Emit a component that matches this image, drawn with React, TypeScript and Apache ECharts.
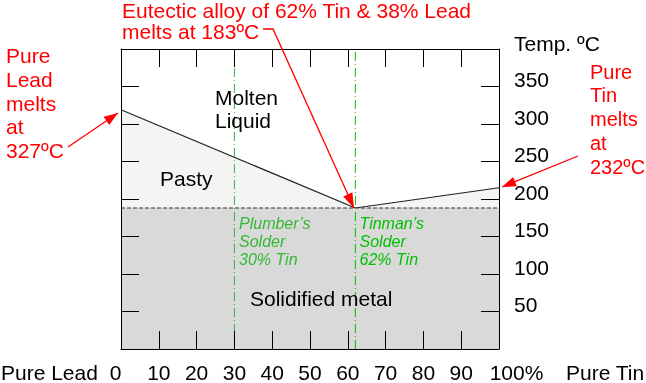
import React, { useEffect, useRef } from "react";
import * as echarts from "echarts";

// ---- data ----
const liquidusX = [0, 62, 100];          // % Tin
const liquidusT = [319, 188, 215];        // drawn temperatures (°C)
const solidusX = [0, 100];
const solidusT = [188, 188];
const plumberX = 30;
const plumberTop = 376;
const tinmanX = 62;
const tempTicks = [50, 100, 150, 200, 250, 300, 350];
const compTicks = [0, 10, 20, 30, 40, 50, 60, 70, 80, 90, 100];

const FONT = "'Liberation Sans', Arial, sans-serif";
const RED = "#ff0000";
const GREEN1 = "#33b833";
const GREEN2 = "#00c000";

function textLines(lines: string[], x: number, y0: number, dy: number, fill: string, font: string) {
  return lines.map((t, i) => ({
    type: "text",
    x,
    y: y0 + i * dy,
    z: 20,
    style: { text: t, fill, font, align: "left", verticalAlign: "middle" },
  }));
}

function arrowHead(tail: number[], head: number[], len: number, half: number) {
  const dx = head[0] - tail[0];
  const dy = head[1] - tail[1];
  const l = Math.sqrt(dx * dx + dy * dy);
  const ux = dx / l, uy = dy / l;
  const bx = head[0] - ux * len, by = head[1] - uy * len;
  return {
    type: "polygon",
    z: 20,
    shape: { points: [[head[0], head[1]], [bx - uy * half, by + ux * half], [bx + uy * half, by - ux * half]] },
    style: { fill: RED },
  };
}

export default function App() {
  const ref = useRef<HTMLDivElement>(null);
  useEffect(() => {
    if (!ref.current) return;
    const chart = echarts.init(ref.current, null, { renderer: "svg" });
    const axisLine = { show: true, onZero: false, lineStyle: { color: "#000", width: 1 } };
    const tick = { show: true, inside: true, length: 18, lineStyle: { color: "#000", width: 1 } };
    const lab = { fontSize: 21, color: "#000", fontFamily: FONT };

    const arrow1Pts = [[263, 29], [273, 29], [354, 208]];
    const arrow2 = [[68, 147], [118, 113]];
    const arrow3 = [[578, 156], [502, 187]];

    chart.setOption({
      animation: false,
      grid: { left: 121, right: 147, top: 49, bottom: 32 },
      xAxis: [
        {
          type: "value", min: 0, max: 100, interval: 10, position: "bottom", z: 10,
          axisLine, axisTick: tick, splitLine: { show: false },
          axisLabel: {
            ...lab, margin: 13,
            formatter: (v: number) => {
              if (!compTicks.includes(v)) return "";
              if (v === 0) return "{a|0}";
              if (v === 100) return "{b|100%}";
              return String(v);
            },
            rich: {
              a: { fontSize: 21, color: "#000", fontFamily: FONT, padding: [0, 11, 0, 0] },
              b: { fontSize: 21, color: "#000", fontFamily: FONT, padding: [0, 0, 0, 35] },
            },
          },
        },
        {
          type: "value", min: 0, max: 100, interval: 10, position: "top", z: 10,
          axisLine, axisTick: tick, splitLine: { show: false }, axisLabel: { show: false },
        },
      ],
      yAxis: [
        {
          type: "value", min: 0, max: 400, interval: 50, position: "right", z: 10,
          axisLine, axisTick: tick, splitLine: { show: false },
          axisLabel: {
            ...lab, margin: 15, verticalAlign: "bottom", lineHeight: 14,
            formatter: (v: number) => (tempTicks.includes(v) ? String(v) : ""),
          },
        },
        {
          type: "value", min: 0, max: 400, interval: 50, position: "left", z: 10,
          axisLine, axisTick: tick, splitLine: { show: false }, axisLabel: { show: false },
        },
      ],
      series: [
        {
          type: "line", name: "liquidus", xAxisIndex: 0, yAxisIndex: 0,
          data: liquidusX.map((x, i) => [x, liquidusT[i]]),
          showSymbol: false, symbol: "none",
          lineStyle: { color: "#222", width: 1.2 },
          areaStyle: { color: "#f4f4f4", opacity: 1, origin: "start" },
          z: 1,
        },
        {
          type: "line", name: "solidus", xAxisIndex: 0, yAxisIndex: 0,
          data: solidusX.map((x, i) => [x, solidusT[i]]),
          showSymbol: false, symbol: "none",
          lineStyle: { color: "#333", width: 1, type: [4, 2] },
          areaStyle: { color: "#d9d9d9", opacity: 1, origin: "start" },
          z: 2,
        },
        {
          type: "line", name: "plumber", xAxisIndex: 0, yAxisIndex: 0,
          data: [[plumberX, 0], [plumberX, plumberTop]],
          showSymbol: false, symbol: "none",
          lineStyle: { color: GREEN1, width: 1, type: [9, 3, 1, 3] },
          z: 3,
        },
        {
          type: "line", name: "tinman", xAxisIndex: 0, yAxisIndex: 0,
          data: [[tinmanX, 0], [tinmanX, 400]],
          showSymbol: false, symbol: "none",
          lineStyle: { color: GREEN2, width: 1, type: [9, 3, 1, 3] },
          z: 3,
        },
      ],
      graphic: [
        ...textLines(["Eutectic alloy of 62% Tin & 38% Lead", "melts at 183ºC"], 122, 10, 21.5, RED, `21px ${FONT}`),
        ...textLines(["Pure", "Lead", "melts", "at", "327ºC"], 6, 55.5, 23.8, RED, `21px ${FONT}`),
        ...textLines(["Pure", "Tin", "melts", "at", "232ºC"], 590, 71.7, 23.7, RED, `20px ${FONT}`),
        ...textLines(["Temp. ºC"], 514, 43, 0, "#000", `21px ${FONT}`),
        ...textLines(["Molten", "Liquid"], 215, 97, 23.5, "#000", `21px ${FONT}`),
        ...textLines(["Pasty"], 160, 178, 0, "#000", `21px ${FONT}`),
        ...textLines(["Solidified metal"], 250, 298, 0, "#000", `21px ${FONT}`),
        ...textLines(["Plumber’s", "Solder", "30% Tin"], 239, 223, 18, GREEN1, `italic 16px ${FONT}`),
        ...textLines(["Tinman’s", "Solder", "62% Tin"], 359.5, 223, 18, GREEN2, `italic 16px ${FONT}`),
        ...textLines(["Pure Lead"], 1, 372, 0, "#000", `21px ${FONT}`),
        ...textLines(["Pure Tin"], 566, 372, 0, "#000", `21px ${FONT}`),
        { type: "polyline", z: 20, shape: { points: arrow1Pts }, style: { stroke: RED, lineWidth: 1.3, fill: null } },
        arrowHead(arrow1Pts[1], arrow1Pts[2], 15, 5),
        { type: "line", z: 20, shape: { x1: arrow2[0][0], y1: arrow2[0][1], x2: arrow2[1][0], y2: arrow2[1][1] }, style: { stroke: RED, lineWidth: 1.3 } },
        arrowHead(arrow2[0], arrow2[1], 14, 5),
        { type: "line", z: 20, shape: { x1: arrow3[0][0], y1: arrow3[0][1], x2: arrow3[1][0], y2: arrow3[1][1] }, style: { stroke: RED, lineWidth: 1.3 } },
        arrowHead(arrow3[0], arrow3[1], 14, 5),
      ],
    });
    return () => chart.dispose();
  }, []);
  return <div ref={ref} style={{ position: "fixed", left: 0, top: 0, width: 646, height: 383 }} />;
}
